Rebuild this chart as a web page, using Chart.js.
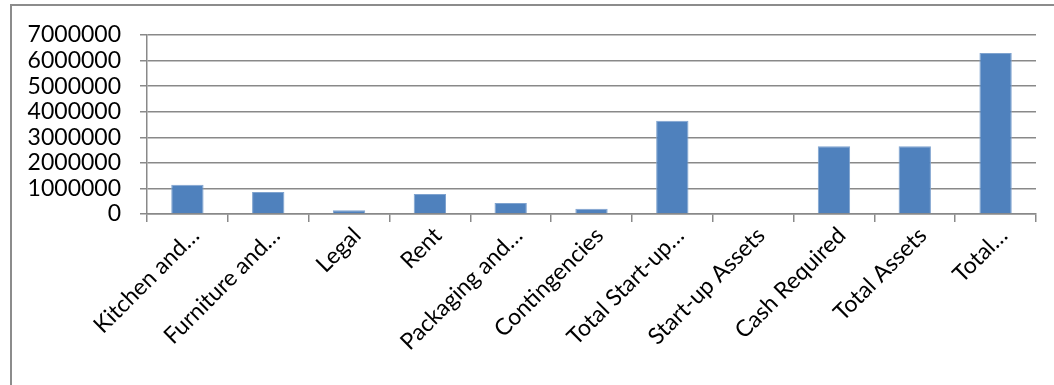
<!DOCTYPE html>
<html>
<head>
<meta charset="utf-8">
<script src="https://cdn.jsdelivr.net/npm/chart.js@4"></script>
<style>
  body { margin: 0; background: #fff; overflow: hidden; }
  #wrap { position: relative; width: 1054px; height: 385px; }
  #frame { position: absolute; left: 10px; top: 4px; width: 1100px; height: 420px;
           border-left: 2px solid #8c8c8c; border-top: 2px solid #8c8c8c; }
  canvas { position: absolute; left: 0; top: 0; }
</style>
</head>
<body>
<div id="wrap">
  <div id="frame"></div>
  <canvas id="myChart" width="1054" height="385"></canvas>
</div>
<script>
var categories = [
  "Kitchen and\u2026",
  "Furniture and\u2026",
  "Legal",
  "Rent",
  "Packaging and\u2026",
  "Contingencies",
  "Total Start-up\u2026",
  "Start-up Assets",
  "Cash Required",
  "Total Assets",
  "Total\u2026",
];
var amounts = [1140000, 860000, 150000, 780000, 430000, 210000, 3650000, 0, 2650000, 2650000, 6300000];
var yTicks = [0, 1000000, 2000000, 3000000, 4000000, 5000000, 6000000, 7000000];

var gridGray = "#898989";
var labelFont = { family: "Lato", size: 23 };

var ctx = document.getElementById("myChart").getContext("2d");
var myChart = new Chart(ctx, {
  type: "bar",
  data: {
    labels: categories,
    datasets: [
      {
        label: "Amount",
        data: amounts,
        backgroundColor: "#4f81bd",
        borderColor: "#7fa3cf",
        borderWidth: 1,
        barPercentage: 0.4,
        categoryPercentage: 1,
      },
    ],
  },
  options: {
    responsive: false,
    animation: false,
    layout: { padding: { left: 0, top: 35, right: 18, bottom: 0 } },
    plugins: { legend: { display: false }, tooltip: { enabled: false } },
    scales: {
      x: {
        grid: { drawOnChartArea: false, drawTicks: true, tickLength: 8, color: gridGray, lineWidth: 1.5 },
        border: { color: gridGray, width: 1.5 },
        ticks: { color: "#000", font: labelFont, maxRotation: 45, minRotation: 45, autoSkip: false, padding: 0, labelOffset: 8 },
        afterFit: function (scale) { scale.height = 385 - 214; },
      },
      y: {
        min: yTicks[0],
        max: yTicks[yTicks.length - 1],
        afterBuildTicks: function (scale) {
          scale.ticks = yTicks.map(function (v) { return { value: v }; });
        },
        grid: { color: gridGray, lineWidth: 1.5, tickLength: 7 },
        border: { color: gridGray, width: 1.5 },
        ticks: {
          color: "#000",
          font: labelFont,
          padding: 19,
          autoSkip: false,
          callback: function (v) { return String(v); },
        },
        afterFit: function (scale) { scale.width = 147; },
      },
    },
  },
});
</script>
</body>
</html>
